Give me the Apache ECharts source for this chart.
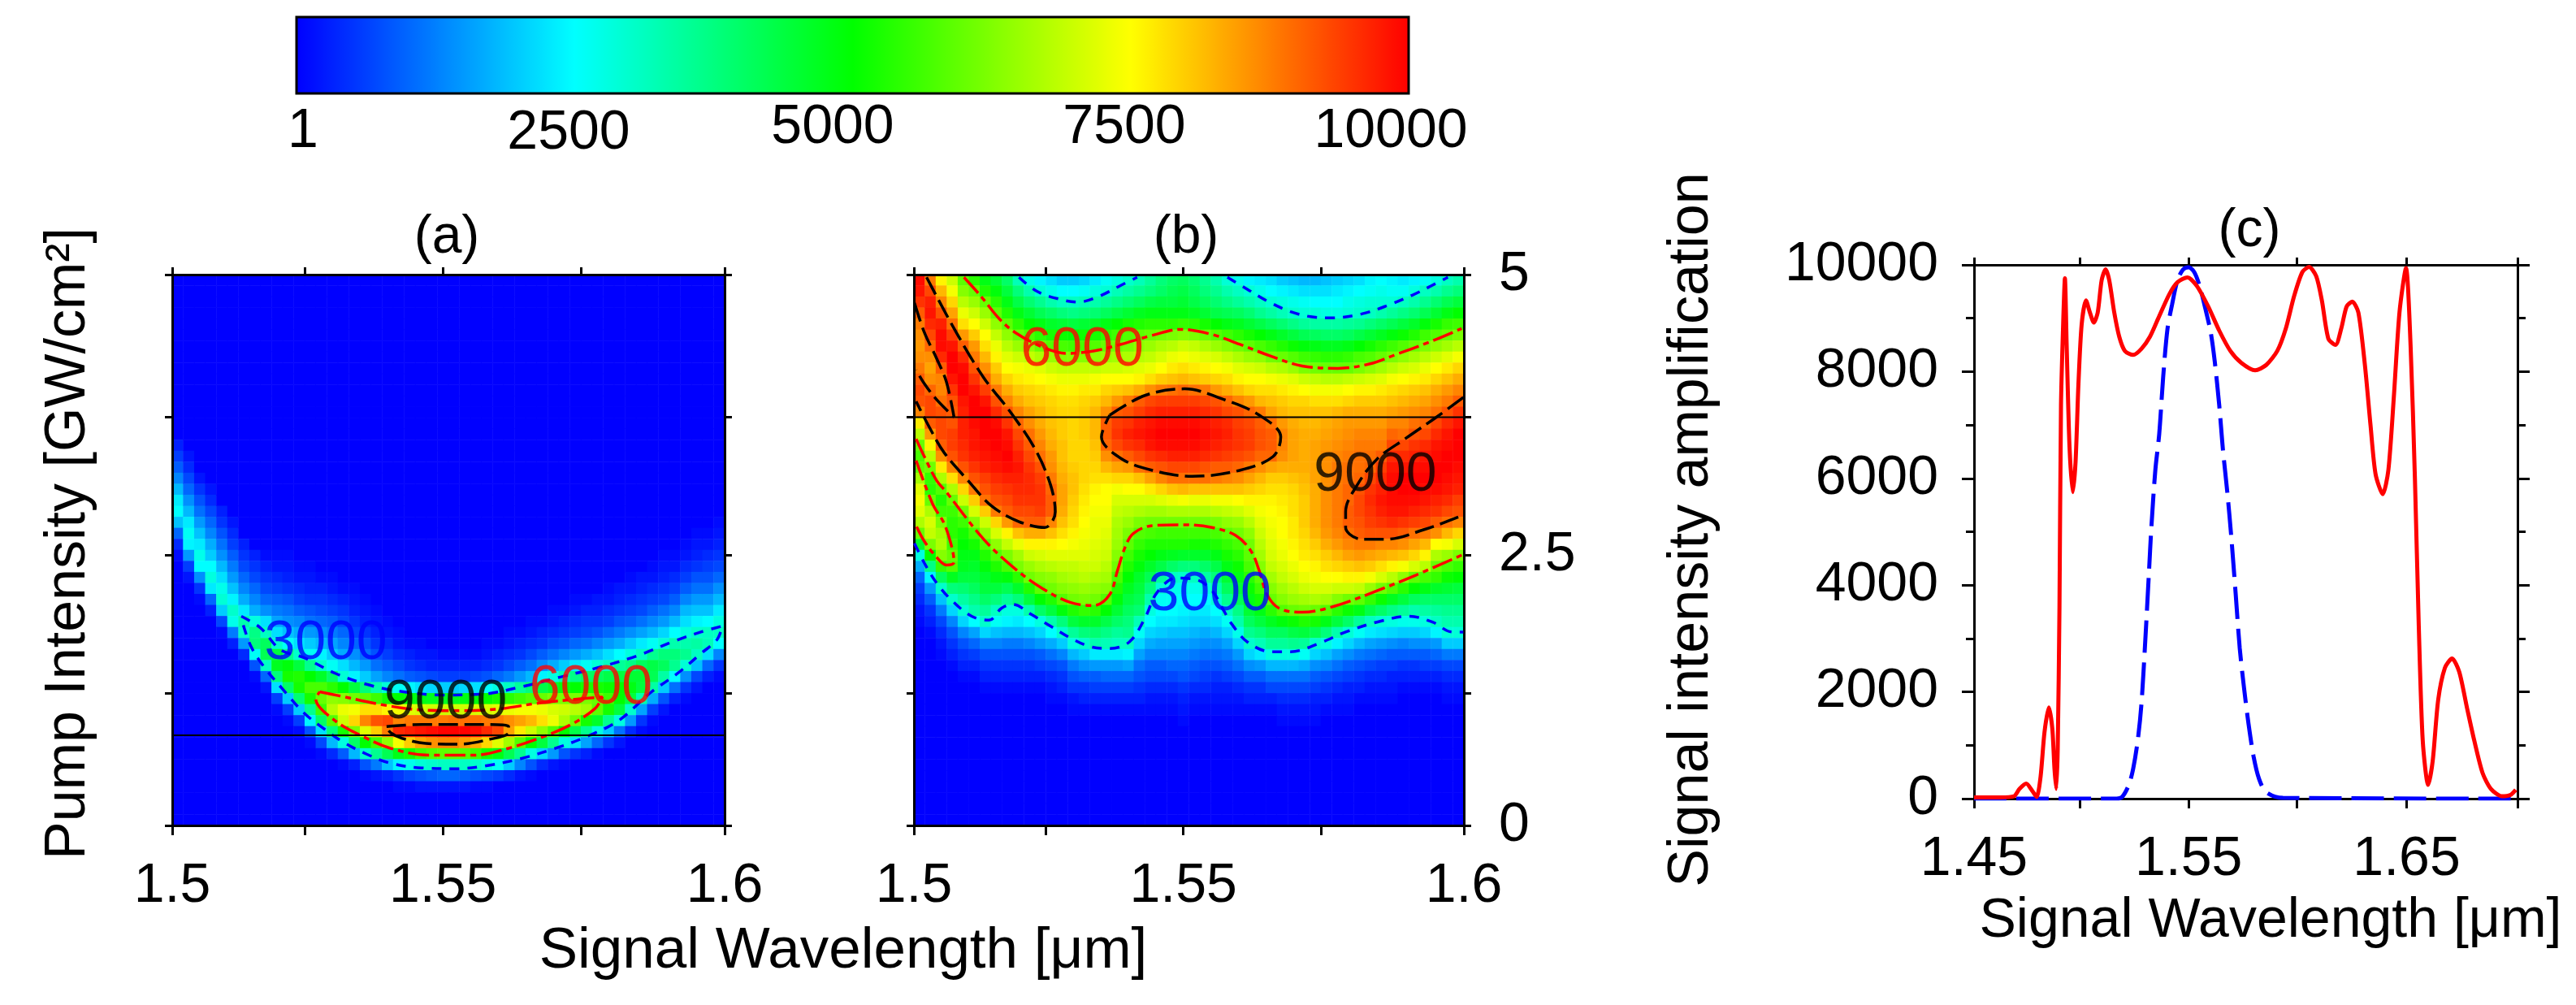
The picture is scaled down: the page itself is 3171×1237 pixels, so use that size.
<!DOCTYPE html>
<html><head><meta charset="utf-8">
<style>html,body{margin:0;padding:0;background:#fff}#c{width:3171px;height:1237px}</style>
<script src="https://cdn.jsdelivr.net/npm/echarts@6/dist/echarts.min.js"></script>
</head><body><div id="c"></div>
<script>
// Heat values in hundreds. One list per wavelength column; first item = first row (top = 0), then values downward. Rows left out are at the floor value.
const aColumns = [
[15,3,6,9,13,18,23,25,19,10,4,1],
[16,2,4,7,10,14,18,23,26,24,15,6,2],
[18,2,5,8,11,15,19,23,27,25,14,5,1],
[19,2,4,7,10,13,17,20,25,28,23,10,3],
[21,3,5,8,11,14,18,22,27,29,20,7,1],
[22,2,4,6,9,12,15,19,24,30,27,12,3],
[24,3,5,7,10,13,17,23,33,30,15,4],
[25,3,5,7,10,13,17,28,37,38,26,8,1],
[25,1,3,5,7,10,14,22,31,41,42,31,10,2],
[25,1,2,4,6,9,12,16,22,30,44,47,38,22,6,1],
[25,1,2,3,5,8,11,14,19,26,36,49,52,40,20,6,1],
[26,1,2,4,6,9,13,17,22,30,44,53,52,39,20,6,1],
[26,1,2,3,5,8,11,15,20,26,36,50,57,52,36,24,8,1],
[27,1,3,5,7,10,14,18,24,30,46,57,60,56,40,22,7,1],
[27,1,2,4,6,9,12,16,20,26,40,54,64,68,58,38,18,4],
[28,1,3,5,7,10,13,17,22,29,50,63,73,70,52,28,9,1],
[28,1,2,3,5,7,10,14,18,24,44,61,74,79,62,40,18,3],
[29,1,2,3,5,8,11,15,20,38,59,78,87,72,50,30,8,1],
[30,1,2,3,5,8,11,16,33,56,78,92,80,56,36,12,2],
[31,1,2,4,6,9,13,29,52,76,93,88,64,42,19,3],
[32,1,2,4,7,11,26,50,74,87,96,74,48,24,5,1],
[33,1,3,5,9,24,49,72,88,97,80,52,27,7,1],
[33,1,2,4,8,22,48,71,88,98,84,56,29,8,2],
[34,2,3,7,21,47,70,88,99,86,58,30,9,2],
[34,1,3,6,20,47,70,88,100,87,59,31,10,2],
[34,1,3,6,20,47,70,89,100,87,59,31,10,2],
[34,1,3,6,21,48,70,89,100,85,58,31,9,2],
[34,1,3,7,22,49,71,89,99,83,56,30,8,1],
[33,1,2,4,8,25,50,71,88,96,79,52,28,7,1],
[33,1,3,5,10,28,52,72,88,93,72,48,26,6],
[32,1,2,4,7,12,31,54,73,86,84,66,42,20,4],
[32,1,3,5,9,15,35,56,74,84,77,58,36,13,2],
[31,1,2,4,7,11,18,38,58,74,82,70,50,28,8,1],
[31,1,3,5,9,14,24,43,60,73,78,64,44,21,4],
[30,1,2,4,7,11,17,28,46,62,71,73,58,36,15,2],
[30,1,3,5,8,13,20,33,49,62,70,67,50,28,8,1],
[29,1,2,4,6,10,15,23,37,50,62,68,61,43,22,5],
[29,1,3,5,7,11,17,26,40,52,62,66,52,36,16,3],
[29,2,3,5,8,13,19,29,41,52,60,59,46,28,10,1],
[28,1,2,4,6,10,15,22,31,43,51,56,52,36,20,5],
[28,2,3,5,8,12,17,25,35,44,50,50,44,28,11,2],
[27,1,2,4,6,9,14,20,28,37,45,48,44,30,15,4],
[27,2,3,5,7,11,16,23,31,41,45,44,33,16,5,1],
[26,1,2,4,6,9,13,18,26,36,43,42,34,17,6,1],
[25,1,2,3,5,7,11,15,21,29,38,41,34,20,8,2],
[25,1,2,4,6,9,13,18,25,33,38,36,25,11,3],
[24,1,2,4,6,9,13,18,22,28,33,36,29,14,5,1],
[23,1,2,3,5,8,11,15,19,24,30,34,31,19,7,2],
[23,1,2,4,6,8,11,15,19,25,31,32,22,10,3],
[22,1,2,3,5,7,10,14,18,23,28,31,25,13,5,1]
];
const bColumns = [
[0,99,98,95,91,88,86,85,86,88,91,93,92,87,77,68,60,57,59,66,72,74,72,67,60,46,28,17,10,6,4,2,1],
[0,88,93,97,98,96,93,90,86,84,86,90,93,93,91,85,76,68,61,55,54,60,67,71,69,62,50,37,24,15,9,5,3,1],
[0,76,82,87,92,97,99,99,96,91,87,87,89,92,93,93,91,86,77,67,58,53,56,62,66,67,63,55,41,30,19,12,7,4,2,1],
[0,70,74,79,84,89,94,98,100,100,98,95,92,91,92,94,94,92,87,78,67,60,56,54,54,56,60,58,47,38,30,21,13,8,5,3,1],
[0,59,63,68,73,78,85,91,96,99,100,100,98,97,97,97,96,95,92,87,79,70,61,56,52,50,48,47,44,39,34,29,21,13,8,5,3,1],
[0,54,60,65,70,75,80,85,88,92,95,98,100,100,99,98,98,97,95,92,88,80,71,63,57,52,48,46,44,41,37,33,25,16,10,6,3,1],
[0,48,53,60,65,70,75,78,82,86,90,94,98,100,100,100,99,98,97,94,92,89,80,70,64,58,53,49,46,44,40,35,30,21,13,8,5,3,1],
[0,45,49,54,59,64,69,73,76,80,83,88,92,96,99,100,100,99,98,96,94,92,88,79,71,64,58,53,48,44,38,31,26,19,13,8,5,3,1],
[0,40,44,48,53,59,64,68,72,75,79,83,87,92,95,98,99,100,99,97,95,93,91,85,76,69,62,57,49,42,35,28,24,18,12,8,5,3,1],
[0,32,38,43,48,54,60,65,70,74,77,80,83,87,90,93,95,97,98,97,96,95,93,90,81,73,66,62,54,46,38,28,23,18,12,8,5,3,1],
[0,27,33,39,45,50,57,64,69,73,76,79,81,84,86,89,91,93,95,96,96,95,93,91,83,76,70,65,61,53,44,33,25,19,13,8,5,3,1],
[0,24,29,36,42,48,54,60,67,72,75,78,80,82,83,85,87,89,92,94,95,95,94,91,83,76,71,67,63,59,50,40,28,21,15,9,6,3,1],
[0,22,27,33,40,46,52,58,65,70,74,77,79,80,81,82,83,85,86,88,90,91,91,87,81,76,72,68,64,61,53,44,33,25,17,11,7,4,2,1],
[0,20,25,31,38,45,51,57,63,69,73,76,78,79,80,80,81,81,82,83,84,84,83,81,78,75,72,69,66,63,58,49,38,30,20,13,8,5,3,1],
[0,20,25,31,37,44,50,56,63,69,73,76,78,79,79,79,79,79,80,81,81,80,79,78,76,74,72,69,67,64,61,53,44,35,28,18,12,8,5,2,1],
[0,21,26,32,38,45,51,57,63,69,73,77,79,80,80,80,79,79,79,79,78,77,76,75,74,73,72,70,68,65,62,55,46,38,30,20,14,9,5,3,1],
[0,23,28,33,39,46,52,58,64,69,74,77,80,82,82,82,81,80,79,78,76,75,74,73,73,72,71,70,67,64,61,54,46,39,33,23,15,9,6,3,1],
[0,26,29,35,41,48,54,60,65,70,75,79,82,86,91,91,90,86,82,78,75,75,74,73,72,71,70,68,66,63,58,50,43,37,32,23,15,10,6,3,1],
[0,28,32,37,43,50,56,61,66,70,75,80,85,91,94,95,93,89,84,79,74,71,69,67,66,65,63,61,57,53,49,45,40,35,31,23,15,10,6,3,1],
[0,30,34,39,45,52,58,62,67,71,75,81,88,92,95,97,95,91,85,79,75,71,68,65,62,59,56,53,50,47,44,41,38,36,31,24,16,10,6,3,1],
[0,32,36,41,47,53,59,64,68,72,76,83,91,94,97,98,96,93,89,81,75,71,67,62,58,55,52,49,46,44,42,39,32,26,21,16,11,8,5,3,1],
[0,35,38,43,48,54,60,65,69,73,78,86,93,96,98,99,98,95,91,84,77,71,66,61,57,53,50,46,42,38,33,28,25,21,17,13,9,7,4,2,1],
[0,38,40,44,48,54,61,67,71,75,80,88,94,97,99,100,99,96,92,87,79,72,66,61,56,53,48,43,35,29,26,25,23,20,16,13,9,7,4,2,1],
[0,40,42,44,48,54,62,68,73,77,81,89,94,97,99,100,99,97,93,89,81,73,67,61,56,53,47,40,31,27,26,25,23,19,16,13,10,7,4,2,1],
[0,41,43,45,48,55,63,70,74,78,82,90,94,97,99,100,99,97,93,89,82,74,67,61,56,53,46,38,30,27,25,24,22,19,16,13,10,8,5,3,2,1],
[0,39,41,43,47,54,62,69,73,77,81,89,94,97,99,100,99,97,93,89,81,73,67,61,56,52,46,38,31,27,25,23,21,18,15,12,9,7,4,2,1],
[0,36,38,41,45,52,60,67,72,76,80,88,93,96,98,99,98,96,92,89,81,73,67,61,56,52,46,40,34,28,25,23,21,17,14,11,8,6,4,2,1],
[0,33,36,39,43,50,58,65,71,75,79,85,92,95,97,98,97,95,91,88,81,74,68,62,57,53,48,43,38,33,29,25,22,18,14,11,8,5,3,2,1],
[0,29,33,37,42,48,56,63,69,74,78,83,90,93,96,97,96,94,91,87,81,74,69,64,59,55,52,48,45,41,36,31,26,21,16,12,9,6,3,2,1],
[0,27,31,35,41,47,54,61,67,72,76,81,87,92,94,95,95,93,90,86,81,75,70,65,61,57,54,51,48,45,42,37,33,27,21,15,11,7,4,2,1],
[0,24,29,33,39,45,52,59,65,71,75,79,85,90,93,94,94,92,88,84,80,76,72,68,64,61,59,57,54,51,48,45,41,36,30,21,14,9,5,3,1],
[0,23,27,31,36,43,50,57,64,70,75,78,82,88,91,92,92,90,86,82,79,76,74,72,70,68,66,63,59,56,52,48,44,38,32,23,15,9,5,3,1],
[0,22,25,29,34,41,48,55,61,68,74,78,81,84,89,91,91,90,84,80,78,76,75,74,73,72,71,69,66,63,60,54,47,41,35,28,18,11,7,3,1],
[0,20,24,28,32,39,46,53,60,67,73,77,80,82,85,87,87,86,83,80,78,77,76,75,75,74,73,71,69,66,63,58,49,41,35,28,18,11,7,4,2,1],
[0,19,23,27,30,37,44,51,58,65,72,76,79,81,83,84,84,84,83,81,79,78,78,77,77,76,75,73,71,68,65,60,51,43,36,28,18,11,7,4,2,1],
[0,18,22,26,29,35,42,49,56,62,70,75,79,81,82,83,83,83,83,82,81,80,80,80,79,78,77,75,73,70,66,61,53,44,35,26,17,11,7,4,2,1],
[0,18,22,25,29,34,41,48,55,61,69,74,78,81,82,83,84,84,84,84,83,83,83,83,82,80,78,76,74,71,67,60,52,42,30,21,14,9,6,3,2,1],
[0,19,22,25,28,34,40,47,54,60,68,74,78,81,83,84,85,86,86,86,86,86,86,86,85,83,80,78,75,71,66,58,48,38,28,19,13,8,5,3,1],
[0,20,23,25,28,34,40,47,54,60,68,74,78,82,84,85,86,87,88,88,88,88,88,88,87,85,82,79,75,70,63,54,44,33,24,16,11,7,4,2,1],
[0,21,24,27,29,35,41,48,55,60,69,75,79,83,85,86,87,88,89,89,90,90,91,91,89,87,84,80,76,70,61,51,40,29,21,14,9,6,3,2,1],
[0,22,25,28,30,36,43,50,57,62,70,76,80,83,85,87,88,89,89,90,92,93,93,92,91,88,85,81,76,69,59,48,35,26,18,12,8,5,3,1],
[0,24,26,29,31,38,45,52,58,64,71,76,80,83,85,87,88,89,90,93,95,96,95,94,92,88,84,80,74,65,55,43,31,23,16,11,7,4,2,1],
[0,25,27,29,33,40,47,54,60,66,72,77,80,83,85,87,88,91,94,96,97,98,97,95,92,87,83,78,71,61,51,40,29,22,15,10,6,4,2,1],
[0,24,26,29,35,42,49,56,62,68,74,78,81,84,87,90,93,96,98,99,99,99,98,96,92,87,82,76,68,58,47,37,28,21,14,9,6,3,2,1],
[0,23,26,31,37,44,51,58,64,70,75,79,82,85,87,89,93,96,98,100,100,99,98,95,91,86,81,74,64,54,44,35,27,20,13,9,5,3,1],
[0,24,28,33,39,46,53,60,66,71,76,80,83,86,89,92,95,97,99,100,100,99,97,94,89,84,79,71,59,50,41,33,27,20,14,9,5,3,1],
[0,26,31,36,42,49,56,62,68,73,77,81,84,87,90,93,96,98,99,100,99,98,96,93,88,82,76,68,57,48,40,34,28,21,14,9,6,3,1],
[0,28,33,39,45,52,58,64,70,75,79,83,86,89,93,96,98,99,100,100,99,97,95,91,86,75,67,60,55,46,40,35,31,24,15,10,6,3,1],
[0,31,36,42,48,55,60,66,72,77,81,85,88,92,96,98,99,100,100,99,98,96,93,89,82,74,65,57,51,45,40,36,33,29,20,12,7,4,2,1],
[0,33,38,44,50,56,62,68,74,79,83,87,91,95,98,100,100,100,99,98,97,94,92,87,79,71,62,55,50,44,40,36,33,29,20,12,7,4,2,1]
];
const a3000 = [[1.5125,1.899],[1.516,1.792],[1.5196,1.595],[1.5238,1.524],[1.5295,1.381],[1.5352,1.281],[1.5409,1.22],[1.5488,1.184],[1.5559,1.191],[1.563,1.256],[1.5701,1.345],[1.5772,1.434],[1.5843,1.542],[1.5915,1.685],[1.5957,1.756],[1.5996,1.81],[1.5986,1.685],[1.5957,1.56],[1.5915,1.381],[1.5865,1.202],[1.5808,.951],[1.5751,.808],[1.5694,.701],[1.563,.605],[1.5566,.54],[1.5516,.515],[1.5452,.522],[1.5395,.565],[1.5352,.647],[1.531,.755],[1.5274,.88],[1.5238,1.023],[1.5203,1.22],[1.5167,1.434],[1.5142,1.631],[1.5125,1.881]];
const a6000 = [[1.5267,1.213],[1.5302,1.177],[1.5381,1.095],[1.5452,1.048],[1.5523,1.041],[1.5594,1.059],[1.5665,1.112],[1.5737,1.148],[1.5779,1.166],[1.5765,1.059],[1.5722,.916],[1.5673,.808],[1.5609,.701],[1.5544,.637],[1.5466,.637],[1.5395,.701],[1.5345,.808],[1.5295,.951],[1.526,1.148],[1.5267,1.213]];
const a9000 = [[1.5388,.898],[1.5452,.916],[1.5566,.916],[1.5609,.898],[1.5609,.844],[1.5573,.78],[1.5516,.737],[1.5459,.744],[1.5416,.791],[1.5395,.844],[1.5388,.898]];
const b3000Low = [[1.5001,2.561],[1.5019,2.382],[1.5041,2.203],[1.5069,2.042],[1.5105,1.899],[1.5137,1.864],[1.5159,1.971],[1.518,2.007],[1.5213,1.917],[1.5248,1.81],[1.5284,1.703],[1.532,1.624],[1.5356,1.606],[1.5392,1.667],[1.542,1.881],[1.5442,2.114],[1.5477,2.246],[1.5513,2.232],[1.5542,2.132],[1.5563,1.953],[1.5578,1.828],[1.5606,1.667],[1.5649,1.577],[1.5685,1.577],[1.5735,1.649],[1.5785,1.756],[1.5842,1.846],[1.59,1.899],[1.5943,1.846],[1.5979,1.756],[1.5999,1.756]];
const b3000Top1 = [[1.5191,4.976],[1.5223,4.85],[1.5263,4.779],[1.5298,4.75],[1.5334,4.797],[1.5377,4.904],[1.5406,4.976]];
const b3000Top2 = [[1.557,4.976],[1.5606,4.868],[1.5642,4.761],[1.5685,4.664],[1.5721,4.618],[1.5757,4.607],[1.5814,4.643],[1.5864,4.725],[1.5907,4.815],[1.5943,4.904],[1.5971,4.976]];
const b6000Top = [[1.5091,4.976],[1.5123,4.797],[1.5155,4.6],[1.5184,4.475],[1.5234,4.342],[1.5277,4.285],[1.5327,4.307],[1.5377,4.368],[1.5434,4.45],[1.5485,4.503],[1.5542,4.457],[1.5592,4.368],[1.5649,4.26],[1.5706,4.171],[1.5771,4.149],[1.5828,4.189],[1.5878,4.278],[1.5936,4.385],[1.5996,4.511]];
const b6000Low = [[1.5004,3.509],[1.5019,3.348],[1.5041,3.133],[1.5059,3.026],[1.5127,2.597],[1.5184,2.329],[1.5234,2.15],[1.5284,2.025],[1.5327,1.996],[1.5356,2.096],[1.537,2.311],[1.5384,2.525],[1.5399,2.651],[1.5434,2.722],[1.5492,2.729],[1.5542,2.704],[1.5585,2.633],[1.5613,2.49],[1.5628,2.311],[1.5642,2.096],[1.5664,1.971],[1.5706,1.935],[1.5764,1.989],[1.5843,2.132],[1.5914,2.275],[1.5996,2.454]];
const b6000Lobe = [[1.5004,3.312],[1.5034,2.919],[1.5055,2.74],[1.5069,2.525],[1.5073,2.389],[1.5059,2.364],[1.5041,2.436],[1.5019,2.579],[1.5004,2.722]];
const b9000Mid = [[1.5356,3.724],[1.542,3.903],[1.5492,3.963],[1.5563,3.867],[1.5628,3.724],[1.5667,3.527],[1.5653,3.348],[1.5592,3.223],[1.5506,3.169],[1.5434,3.223],[1.5377,3.33],[1.5341,3.527],[1.5356,3.724]];
const b9000Ridge = [[1.5023,4.976],[1.5077,4.475],[1.5127,4.064],[1.5177,3.742],[1.522,3.42],[1.5248,3.098],[1.5257,2.847],[1.5238,2.704],[1.5191,2.758],[1.5141,2.901],[1.5098,3.133],[1.5055,3.384],[1.5026,3.634],[1.5004,3.849]];
const b9000Edge = [[1.5001,4.743],[1.5019,4.475],[1.5041,4.242],[1.5059,4.028],[1.5073,3.706],[1.5041,3.867],[1.5019,4.01],[1.5004,4.135]];
const b9000Right = [[1.5999,3.885],[1.595,3.706],[1.5893,3.509],[1.5843,3.33],[1.5807,3.098],[1.5785,2.847],[1.5785,2.704],[1.5814,2.597],[1.5857,2.597],[1.5928,2.686],[1.5996,2.811]];
const cRed = [[1.45,23],[1.462,23],[1.4684,45],[1.4709,182],[1.474,280],[1.4768,144],[1.4788,30],[1.4806,408],[1.4824,1240],[1.4844,1709],[1.486,1316],[1.487,560],[1.4878,182],[1.4885,938],[1.4893,3585],[1.49,7367],[1.4911,9031],[1.4918,9750],[1.4926,8502],[1.4939,6611],[1.4954,5741],[1.4967,6308],[1.498,7746],[1.4995,8880],[1.5015,9334],[1.5033,9107],[1.5051,8918],[1.5069,9107],[1.5087,9712],[1.5105,9916],[1.5122,9712],[1.5145,9107],[1.5168,8653],[1.5194,8388],[1.5232,8313],[1.527,8426],[1.5309,8653],[1.5347,8994],[1.5398,9447],[1.5436,9674],[1.5482,9765],[1.5526,9599],[1.5577,9221],[1.5628,8767],[1.5679,8388],[1.573,8162],[1.5793,8025],[1.5844,8124],[1.5895,8388],[1.5934,8805],[1.5972,9410],[1.601,9863],[1.6041,9962],[1.6074,9788],[1.61,9334],[1.613,8615],[1.6163,8502],[1.6189,8805],[1.6214,9221],[1.624,9311],[1.6268,9107],[1.6298,8124],[1.6324,6989],[1.6347,6081],[1.638,5703],[1.6406,6157],[1.6431,7519],[1.6457,9107],[1.6487,9939],[1.6508,8502],[1.6528,6006],[1.6546,3207],[1.6564,1089],[1.6589,257],[1.661,711],[1.6635,1846],[1.6666,2451],[1.6699,2625],[1.6732,2375],[1.6768,1694],[1.6801,1089],[1.6839,484],[1.6878,182],[1.6929,45],[1.6967,68],[1.6992,166]];
const cBlue = [[1.45,0],[1.5156,0],[1.5181,30],[1.5212,257],[1.5232,560],[1.5253,1089],[1.527,1770],[1.5288,2980],[1.5304,4190],[1.5316,5098],[1.5334,6157],[1.5352,6838],[1.537,7897],[1.539,8805],[1.5411,9258],[1.5436,9712],[1.5462,9916],[1.5487,9954],[1.5513,9863],[1.5538,9599],[1.5564,9182],[1.5589,8729],[1.5607,8199],[1.5628,7367],[1.5645,6535],[1.5666,5703],[1.5684,4871],[1.5704,3812],[1.5722,2829],[1.5742,2073],[1.5763,1392],[1.5786,787],[1.5811,371],[1.5844,121],[1.5921,15],[1.7,0]];
const abXTicks = [1.5,1.524,1.549,1.574,1.6];
const abXLabels = {1.5:'1.5',1.549:'1.55',1.6:'1.6'};
const abYTicks = [0,1.2,2.455,3.705,5];
const bYLabels = {0:'0',2.455:'2.5',5:'5'};
const cXTicks = [1.45,1.4987,1.5487,1.5985,1.649,1.7];
const cXLabels = {1.45:'1.45',1.5487:'1.55',1.649:'1.65'};
const barLabels = ['1','2500','5000','7500','10000'];
const contourTags = {a:[['3000',1.5278,1.649,'#0000ff'],['9000',1.5495,1.112,'#000'],['6000',1.5758,1.245,'#ff0000']],
                     b:[['6000',1.5306,4.314,'#ff0000'],['9000',1.5839,3.18,'#000'],['3000',1.5538,2.096,'#0000ff']]};

const FONT = '"Liberation Sans",Arial,sans-serif';
const toCells = cols => { const out = [];
  cols.forEach((col,i)=>{ for(let j=0;j<50;j++){ const k=j-col[0]+1; const v=(k>=1&&k<col.length)?col[k]*100:1; out.push([i,j,Math.max(1,v)]); } });
  return out; };
const idx = Array.from({length:50},(_,i)=>i);
const rectA = {left:212,top:338,width:680,height:678};
const rectB = {left:1125,top:338,width:677,height:678};
const rectC = {left:2430,top:326,width:669,height:657};

const frameAxis = (gridIndex,position,extra) => Object.assign({type:'value',gridIndex,position,z:4,scale:true,
  axisLine:{show:true,onZero:false,lineStyle:{color:'#000',width:3}},
  splitLine:{show:false}},extra);
const tickSet = (vals,labels,len,margin) => ({
  axisTick:{show:true,length:len,lineStyle:{color:'#000',width:3},customValues:vals},
  axisLabel: labels ? {show:true,customValues:Object.keys(labels).map(Number),margin,color:'#000',fontSize:68,fontFamily:FONT,
     formatter:v=>labels[v]!==undefined?labels[v]:''} : {show:false}});
const xFrame=(g,pos,lab,t)=>frameAxis(g,pos,Object.assign({min:t[0],max:t[t.length-1]},tickSet(t,lab,pos==='bottom'?12:9,41)));
const yFrame=(g,pos,lab,t,m)=>frameAxis(g,pos,Object.assign({min:t[0],max:t[t.length-1]},tickSet(t,lab,9,m)));
const hidden = (g,extra)=>Object.assign({type:'category',gridIndex:g,data:idx,show:false},extra||{});
const contour=(name,data,xi,yi,color,dash,width)=>({name,type:'line',xAxisIndex:xi,yAxisIndex:yi,data,smooth:0.35,symbol:'none',silent:true,z:5,
  lineStyle:{color,width:width||3.5,type:dash}});
const DASH3=[12,10],DASH6=[26,6,7,6],DASH9=[24,8];
const tags=(list,xi,yi)=>list.map(t=>({type:'scatter',xAxisIndex:xi,yAxisIndex:yi,data:[[t[1],t[2]]],symbolSize:1,silent:true,z:7,itemStyle:{color:'transparent'},
  label:{show:true,position:'inside',formatter:t[0],color:t[3],fontSize:68,fontFamily:FONT}}));
const cut=(y,xi,yi)=>({type:'line',xAxisIndex:xi,yAxisIndex:yi,data:[[1.5,y],[1.6,y]],symbol:'none',silent:true,z:6,lineStyle:{color:'#000',width:2}});
const txt=(text,x,y,size,rot)=>({type:'text',x,y,rotation:rot||0,z:20,silent:true,style:{text,fontSize:size,fontFamily:FONT,fill:'#000',textAlign:'center',textVerticalAlign:'middle',align:'center',verticalAlign:'middle'}});

const option={animation:false,backgroundColor:'#fff',
 grid:[rectA,rectB,rectA,rectB,rectC].map(r=>Object.assign({containLabel:false,show:false},r)),
 visualMap:{type:'continuous',min:1,max:10000,seriesIndex:[0,1],orient:'horizontal',left:365,top:21,itemWidth:94,itemHeight:1369,padding:0,
   calculable:false,hoverLink:false,text:null,showLabel:false,borderColor:'#000',borderWidth:0,
   inRange:{color:['#0000ff','#00ffff','#00ff00','#ffff00','#ff0000']},textStyle:{fontSize:1,color:'rgba(0,0,0,0)'}},
 xAxis:[hidden(0),hidden(1),
   xFrame(2,'bottom',abXLabels,abXTicks),xFrame(2,'top',null,abXTicks),
   xFrame(3,'bottom',abXLabels,abXTicks),xFrame(3,'top',null,abXTicks),
   xFrame(4,'bottom',cXLabels,cXTicks),xFrame(4,'top',null,cXTicks)],
 yAxis:[hidden(0,{inverse:true}),hidden(1,{inverse:true}),
   yFrame(2,'left',null,abYTicks),yFrame(2,'right',null,abYTicks),
   yFrame(3,'left',null,abYTicks),yFrame(3,'right',bYLabels,abYTicks,43),
   frameAxis(4,'left',{min:0,max:10000,interval:2000,axisTick:{show:true,length:15,lineStyle:{color:'#000',width:3}},minorTick:{show:true,splitNumber:2,length:10,lineStyle:{color:'#000',width:3}},minorSplitLine:{show:false},
     axisLabel:{show:true,margin:44,color:'#000',fontSize:68,fontFamily:FONT,formatter:v=>String(v)}}),
   frameAxis(4,'right',{min:0,max:10000,interval:2000,axisTick:{show:true,length:15,lineStyle:{color:'#000',width:3}},minorTick:{show:true,splitNumber:2,length:10,lineStyle:{color:'#000',width:3}},axisLabel:{show:false}})],
 series:[
  {type:'heatmap',xAxisIndex:0,yAxisIndex:0,data:toCells(aColumns),progressive:0,silent:true,z:2,emphasis:{disabled:true}},
  {type:'heatmap',xAxisIndex:1,yAxisIndex:1,data:toCells(bColumns),progressive:0,silent:true,z:2,emphasis:{disabled:true}},
  cut(.819,2,2),cut(3.706,4,4),
  contour('a3000',a3000,2,2,'#0000ff',DASH3),contour('a6000',a6000,2,2,'#ff0000',DASH6),contour('a9000',a9000,2,2,'#000',DASH9),
  contour('b3000',b3000Low,4,4,'#0000ff',DASH3),contour('b3000t1',b3000Top1,4,4,'#0000ff',DASH3),contour('b3000t2',b3000Top2,4,4,'#0000ff',DASH3),
  contour('b6000t',b6000Top,4,4,'#ff0000',DASH6),contour('b6000l',b6000Low,4,4,'#ff0000',DASH6),contour('b6000o',b6000Lobe,4,4,'#ff0000',DASH6),
  contour('b9000m',b9000Mid,4,4,'#000',DASH9),contour('b9000r',b9000Ridge,4,4,'#000',DASH9),contour('b9000e',b9000Edge,4,4,'#000',DASH9),contour('b9000g',b9000Right,4,4,'#000',DASH9),
  ...tags(contourTags.a,2,2),...tags(contourTags.b,4,4),
  {name:'pump',type:'line',xAxisIndex:6,yAxisIndex:6,data:cBlue,smooth:0.3,symbol:'none',silent:true,z:5,lineStyle:{color:'#0000ff',width:5,type:[40,12]}},
  {name:'signal',type:'line',xAxisIndex:6,yAxisIndex:6,data:cRed,smooth:0.25,symbol:'none',silent:true,z:6,lineStyle:{color:'#ff0000',width:5}}
 ],
 graphic:[
  {type:'rect',x:365,y:21,z:20,silent:true,shape:{width:1369,height:94},style:{fill:'none',stroke:'#000',lineWidth:3}},
  txt(barLabels[0],373,162,68),txt(barLabels[1],700,164,68),txt(barLabels[2],1025,157,68),txt(barLabels[3],1384,157,68),txt(barLabels[4],1712,162,68),
  txt('(a)',550,293,66),txt('(b)',1460,293,66),txt('(c)',2769,285,66),
  txt('Signal Wavelength [μm]',1038,1171,71),txt('Signal Wavelength [μm]',2795,1134,68),
  txt('Pump Intensity [GW/cm²]',85,669,70,Math.PI/2),txt('Signal intensity amplification',2083,652,70,Math.PI/2)
 ]};
echarts.init(document.getElementById('c')).setOption(option);
</script></body></html>
